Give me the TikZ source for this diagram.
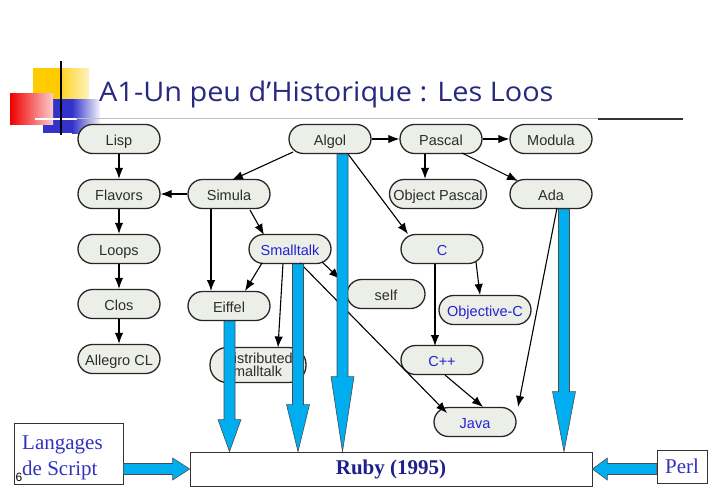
\documentclass[tikz,border=0pt]{standalone}
\usepackage{fontspec}
\setmainfont{Liberation Serif}
\setsansfont{Liberation Sans}
\newfontfamily\titlefont{Open Sans}
\usetikzlibrary{arrows.meta,calc}

\definecolor{nodefill}{RGB}{236,239,232}
\definecolor{nodetext}{RGB}{45,45,45}
\definecolor{oolang}{RGB}{35,35,210}
\definecolor{fatblue}{RGB}{0,174,239}
\definecolor{titleblue}{RGB}{40,40,128}
\definecolor{rubyblue}{RGB}{30,30,140}
\definecolor{scriptblue}{RGB}{50,50,190}
\definecolor{logoyellow}{RGB}{255,204,0}
\definecolor{logoblue}{RGB}{51,51,204}
\definecolor{logored}{RGB}{240,0,0}

% vertical fat arrow: shaft start, tip, head length
\newcommand\fatdown[3]{%
  \filldraw[fat] let \p1=(#1), \p2=(#2) in
    (\x1-5.5pt,\y1) -- (\x1+5.5pt,\y1) -- (\x1+5.5pt,\y2+#3pt) -- (\x1+11.5pt,\y2+#3pt)
    -- (\x1,\y2) -- (\x1-11.5pt,\y2+#3pt) -- (\x1-5.5pt,\y2+#3pt) -- cycle;}
% horizontal fat arrow: shaft start, tip, signed head length
\newcommand\fatside[3]{%
  \filldraw[fat] let \p1=(#1), \p2=(#2) in
    (\x1,\y1+5.5pt) -- (\x2-#3pt,\y1+5.5pt) -- (\x2-#3pt,\y1+11pt) -- (\x2,\y1)
    -- (\x2-#3pt,\y1-11pt) -- (\x2-#3pt,\y1-5.5pt) -- (\x1,\y1-5.5pt) -- cycle;}

\tikzset{
  lang/.style={rectangle, rounded corners=14.5pt, draw=black!85, line width=1.3pt, fill=nodefill,
    minimum width=82pt, minimum height=29pt, inner sep=0pt, text height=14pt, text depth=1.5pt,
    font=\sffamily\fontsize{14.5}{15}\selectfont, text=nodetext},
  oo/.style={lang, text=oolang},
  link/.style={-{Latex[length=11pt,width=8.5pt]}, line width=1.1pt, black},
  fat/.style={fill=fatblue, draw=black!70, line width=0.6pt},
  plainbox/.style={draw=black!80, line width=0.8pt, fill=white, inner sep=0pt},
}

\begin{document}
\begin{tikzpicture}[x=1pt,y=-1pt]
\useasboundingbox (0,0) rectangle (720,498);
\fill[white] (0,0) rectangle (720,498);

% slide logo
\fill[logoyellow] (33,68) rectangle (61,112);
\shade[left color=logoyellow!85, right color=logoyellow!25] (61,68) rectangle (89,112);
\fill[logoblue] (43,99) rectangle (72,133);
\shade[left color=logoblue, right color=logoblue!5] (72,99) rectangle (100,133);
\shade[left color=logored, right color=logored!20] (10,93) rectangle (53,124);
\draw[white, line width=1.5pt] (35,119) -- (77,119);
\draw[black, line width=2pt] (61,61) -- (61,135);

% title and rules
\node[anchor=base west, inner sep=0pt, text=titleblue, font=\titlefont\fontsize{27}{30}\selectfont]
  (title) at (99,101) {\scalebox{1.07}[1]{A1-Un peu d’Historique : Les Loos}};
\draw[black!25, line width=0.8pt] (76,118) -- (598,118);
\draw[black!80, line width=2.2pt] (598,119) -- (683,119);

% languages
\node[lang] (lisp) at (119,139) {Lisp};
\node[lang] (algol) at (330,139) {Algol};
\node[lang] (pascal) at (441,139) {Pascal};
\node[lang] (modula) at (551,139) {Modula};
\node[lang] (flavors) at (119,194) {Flavors};
\node[lang] (simula) at (229,194) {Simula};
\node[lang, minimum width=97pt] (objpascal) at (438,194) {Object Pascal};
\node[lang] (ada) at (551,194) {Ada};
\node[lang] (loops) at (119,249) {Loops};
\node[oo] (smalltalk) at (290,249) {Smalltalk};
\node[oo] (c) at (442,249) {C};
\node[lang, minimum width=78pt] (self) at (386,294) {self};
\node[oo, minimum width=92pt] (objc) at (485,310) {Objective-C};
\node[lang] (clos) at (119,304) {Clos};
\node[lang] (eiffel) at (229,306) {Eiffel};
\node[lang] (allegro) at (119,359) {Allegro CL};
\node[lang, minimum width=96pt, minimum height=35pt, rounded corners=17pt, align=left,
  text height=, text depth=,
  font=\sffamily\fontsize{14.5}{13.5}\selectfont] (dist) at (258,365) {Distributed\\Smalltalk};
\node[oo] (cpp) at (442,360) {C++};
\node[oo] (java) at (475,422) {Java};

% descent links
\draw[link] (lisp) -- (flavors);
\draw[link] (flavors) -- (loops);
\draw[link] (loops) -- (clos);
\draw[link] (clos) -- (allegro);
\draw[link] (algol) -- (pascal);
\draw[link] (pascal) -- (modula);
\draw[link] (simula) -- (flavors);
\draw[link] ($(pascal.south)+(-16,0)$) -- ($(objpascal.north)+(-13,0)$);
\draw[link] ($(algol)+(-37,13)$) -- ($(simula)+(3,-14)$);
\draw[link] ($(simula)+(21,16)$) -- ($(smalltalk)+(-26,-14)$);
\draw[link] ($(simula)+(-18,14.5)$) -- ($(eiffel)+(-18,-15)$);
\draw[link] ($(smalltalk)+(-28,14)$) -- ($(eiffel)+(16,-15)$);
\draw[link] ($(smalltalk)+(-7,14.5)$) -- ($(dist)+(20,-17.5)$);
\draw[link] ($(smalltalk)+(32,13)$) -- ($(self)+(-46,-15)$);
\draw[link] ($(smalltalk)+(10,14)$) -- ($(java)+(-28,-9)$);
\draw[link] ($(algol)+(18,15)$) -- ($(c)+(-34,-15)$);
\draw[link] ($(pascal)+(21,14)$) -- ($(ada)+(-33,-13)$);
\draw[link] ($(c)+(34,13)$) -- ($(objc)+(-5,-15)$);
\draw[link] ($(c)+(-7,14.5)$) -- ($(cpp)+(-7,-14)$);
\draw[link] ($(cpp)+(3,15)$) -- ($(java)+(8,-15)$);
\draw[link] ($(ada)+(6,14)$) -- ($(java)+(43,-15)$);

% Ruby and its sources
\node[plainbox, minimum width=402pt, minimum height=34pt, text=rubyblue,
  font=\bfseries\fontsize{21}{24}\selectfont] (ruby) at (391,469) {Ruby (1995)};
\node[plainbox, minimum width=109pt, minimum height=61pt] (script) at (68.5,453.5) {};
\node[anchor=base west, inner sep=0pt, align=left, text=scriptblue,
  font=\fontsize{21}{26}\selectfont] (scriptlabel) at (22,475) {Langages\\de Script};
\node[plainbox, minimum width=50pt, minimum height=33pt, text=scriptblue,
  font=\fontsize{21}{24}\selectfont] (perl) at (682,466.5) {Perl};
\node[font=\sffamily\fontsize{12}{14}\selectfont, inner sep=0pt] (pagenum) at (19,477.5) {6};

\coordinate (fa1) at ($(eiffel.south)+(0.5,0)$);
\coordinate (fa2) at ($(smalltalk.south)+(8,0)$);
\coordinate (fa3) at ($(algol.south)+(12.5,0)$);
\coordinate (fa4) at ($(ada.south)+(13,0)$);
\fatdown{fa1}{fa1 |- ruby.north}{32}
\fatdown{fa2}{fa2 |- ruby.north}{47}
\fatdown{fa3}{fa3 |- ruby.north}{75}
\fatdown{fa4}{fa4 |- ruby.north}{60}
\fatside{script.east |- ruby.west}{ruby.west}{17}
\fatside{perl.west |- ruby.east}{ruby.east}{-15}
\end{tikzpicture}
\end{document}
